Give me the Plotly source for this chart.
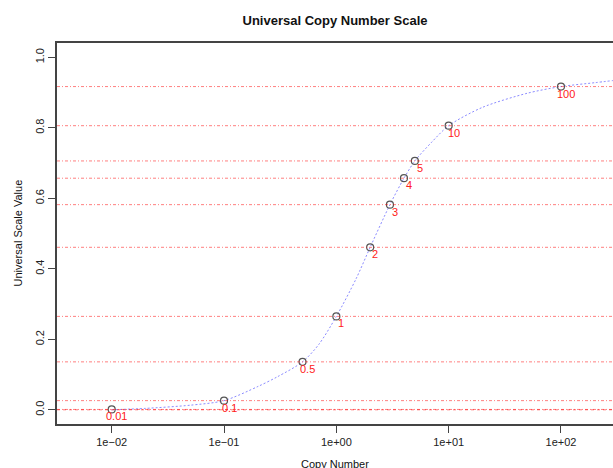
import math
import plotly.graph_objects as go

# Reference copy numbers and their universal scale values
copy_numbers = [0.01, 0.1, 0.5, 1, 2, 3, 4, 5, 10, 100]
scale_values = [0.001, 0.026, 0.136, 0.265, 0.461, 0.582, 0.657, 0.706, 0.806, 0.917]
point_labels = ["0.01", "0.1", "0.5", "1", "2", "3", "4", "5", "10", "100"]

# Points along the smooth scale curve
curve_x = [0.01, 0.02, 0.05, 0.1, 0.2, 0.3, 0.5, 0.7, 1, 1.5, 2, 3, 4, 5, 7,
           10, 20, 50, 100, 200, 290]
curve_y = [0.0, 0.004, 0.013, 0.026, 0.066, 0.094, 0.136, 0.186, 0.265, 0.372,
           0.461, 0.582, 0.657, 0.706, 0.758, 0.806, 0.858, 0.898, 0.917,
           0.928, 0.934]

x_tick_vals = [0.01, 0.1, 1, 10, 100]
x_tick_text = ["1e\u221202", "1e\u221201", "1e+00", "1e+01", "1e+02"]
y_tick_vals = [0.0, 0.2, 0.4, 0.6, 0.8, 1.0]
y_tick_text = ["0.0", "0.2", "0.4", "0.6", "0.8", "1.0"]

FONT = "Liberation Sans, Arial, Helvetica, sans-serif"
AXIS_COL = "#444444"

fig = go.Figure()

# Horizontal guide line at each reference value
for v in scale_values:
    fig.add_hline(y=v, line=dict(color="rgba(255,0,0,0.5)", width=1,
                                 dash="3px,2px,1px,2px"), layer="above")
fig.add_hline(y=0, line=dict(color="rgba(255,0,0,0.55)", width=1,
                             dash="3px,3px"), layer="above")

# Scale curve
fig.add_trace(go.Scatter(
    x=curve_x, y=curve_y, mode="lines",
    line=dict(color="rgba(60,60,255,0.6)", width=1, dash="2px,2px",
              shape="spline", smoothing=0.8),
    hoverinfo="skip", showlegend=False,
))

# Reference points
fig.add_trace(go.Scatter(
    x=copy_numbers, y=scale_values, mode="markers",
    marker=dict(symbol="circle-open", size=7, color="#555555",
                line=dict(color="#555555", width=1.2)),
    showlegend=False,
))

# Red labels just below-right of each point (log axis -> log10 position)
for xv, yv, lab in zip(copy_numbers, scale_values, point_labels):
    fig.add_annotation(x=math.log10(xv), y=yv, text=lab, showarrow=False,
                       xanchor="center", yanchor="middle",
                       xshift=5, yshift=-7,
                       font=dict(family=FONT, size=11, color="#ff2020"))

# Axis titles
fig.add_annotation(text="Copy Number", xref="paper", yref="paper",
                   x=0.5, y=-0.105, xanchor="center", yanchor="middle",
                   showarrow=False,
                   font=dict(family=FONT, size=11, color="#111111"))
fig.add_annotation(text="Universal Scale Value", xref="paper", yref="paper",
                   x=0, y=0.5, xshift=-40, xanchor="center", yanchor="middle",
                   textangle=-90, showarrow=False,
                   font=dict(family=FONT, size=11, color="#111111"))

fig.update_layout(
    width=613, height=468,
    margin=dict(l=57, r=0, t=43, b=44),
    paper_bgcolor="white", plot_bgcolor="white",
    title=dict(text="<b>Universal Copy Number Scale</b>", x=0.5, xref="paper",
               xanchor="center", y=1 - 20.7 / 468, yanchor="middle",
               font=dict(family=FONT, size=13, color="#111111")),
    font=dict(family=FONT, size=11, color="#222222"),
    showlegend=False,
)

fig.update_xaxes(
    type="log", range=[-2.487, 2.463],
    tickvals=x_tick_vals, ticktext=x_tick_text,
    ticks="outside", ticklen=7, tickwidth=1, tickcolor=AXIS_COL,
    showline=True, linecolor=AXIS_COL, linewidth=1.5, mirror=True,
    showgrid=False, zeroline=False,
    tickfont=dict(family=FONT, size=11, color="#222222"),
)
fig.update_yaxes(
    range=[-0.0403, 1.0406],
    tickvals=y_tick_vals, ticktext=y_tick_text, tickangle=-90,
    ticks="outside", ticklen=7, tickwidth=1, tickcolor=AXIS_COL,
    showline=True, linecolor=AXIS_COL, linewidth=1.5, mirror=False,
    showgrid=False, zeroline=False,
    tickfont=dict(family=FONT, size=11, color="#222222"),
)

fig.write_html("out.html")
